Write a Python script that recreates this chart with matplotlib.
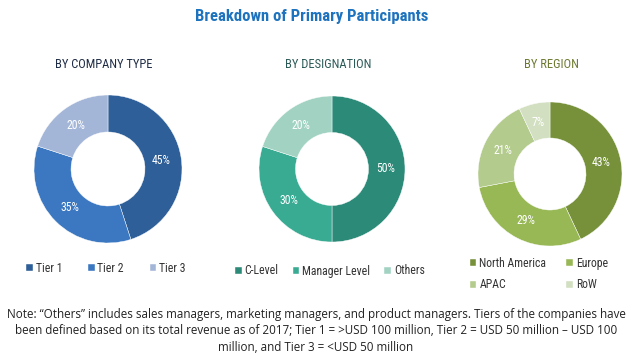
import matplotlib
matplotlib.use('Agg')
import numpy as np
import matplotlib.pyplot as plt

# data
company_labels = ['Tier 1', 'Tier 2', 'Tier 3']
company_values = [45, 35, 20]
company_colors = ['#2e5f98', '#3b78c1', '#a4b6d8']

designation_labels = ['C-Level', 'Manager Level', 'Others']
designation_values = [50, 30, 20]
designation_colors = ['#2b8a78', '#3aab93', '#a2d3c2']

region_labels = ['North America', 'Europe', 'APAC', 'RoW']
region_values = [43, 29, 21, 7]
region_colors = ['#77913b', '#98b856', '#b3cb8c', '#d2dfc0']

narrow = ['Roboto Condensed', 'Liberation Sans Narrow', 'Roboto']

W, H = 632, 360
fig = plt.figure(figsize=(W / 100, H / 100), dpi=100)


def donut(cx, cy, r, values, colors, labels, title, title_color, title_x,
          leg_x, leg_y, ncol, order, colsp, lsp):
    ax = fig.add_axes([(cx - r) / W, (H - cy - r) / H, 2 * r / W, 2 * r / H])
    wedges, _ = ax.pie(values, colors=colors, startangle=90, counterclock=False,
                       radius=1, wedgeprops=dict(width=0.5, edgecolor='white', linewidth=0.3))
    start = 90
    for v in values:
        mid = np.deg2rad(start - v * 3.6 / 2)
        ax.text(0.73 * np.cos(mid), 0.73 * np.sin(mid), f'{v}%', color='white',
                ha='center', va='center', fontsize=8.5, family=narrow)
        start -= v * 3.6
    ax.set_xlim(-1, 1)
    ax.set_ylim(-1, 1)
    ax.set_aspect('equal')
    ax.axis('off')
    fig.text(title_x / W, 1 - 65 / H, title, ha='center', va='center',
             color=title_color, fontsize=9, family=narrow)
    fig.legend([wedges[i] for i in order], [labels[i] for i in order], loc='center',
               bbox_to_anchor=(leg_x / W, 1 - leg_y / H),
               ncol=ncol, frameon=False, handlelength=0.55, handleheight=0.55,
               handletextpad=0.25, columnspacing=colsp, labelspacing=lsp,
               borderpad=0, prop=dict(family=narrow, size=8.5), labelcolor='#333333')


donut(108, 169, 74, company_values, company_colors, company_labels,
      'BY COMPANY TYPE', '#1f2c45', 104, 106, 268, 3, [0, 1, 2], 2.2, 0.8)
donut(332, 169, 73, designation_values, designation_colors, designation_labels,
      'BY DESIGNATION', '#2b5a57', 328, 330, 271, 3, [0, 1, 2], 1.2, 0.8)
donut(550, 174, 72, region_values, region_colors, region_labels,
      'BY REGION', '#6b7a30', 551, 539, 274, 2, [0, 2, 1, 3], 1.7, 0.75)

fig.text(312 / W, 1 - 17 / H, 'Breakdown of Primary Participants', ha='center', va='center',
         color='#1e73be', fontsize=12, fontweight='bold', family=narrow)

note = ('Note: \u201cOthers\u201d includes sales managers, marketing managers, and product managers. '
        'Tiers of the companies have\nbeen defined based on its total revenue as of 2017; '
        'Tier 1 = >USD 100 million, Tier 2 = USD 50 million \u2013 USD 100\n'
        'million, and Tier 3 = <USD 50 million')
fig.text(0.5, 1 - 331 / H, note, ha='center', va='center', fontsize=8.4,
         color='#222222', family='Open Sans', linespacing=1.35)

fig.savefig('out.png', dpi=100)
